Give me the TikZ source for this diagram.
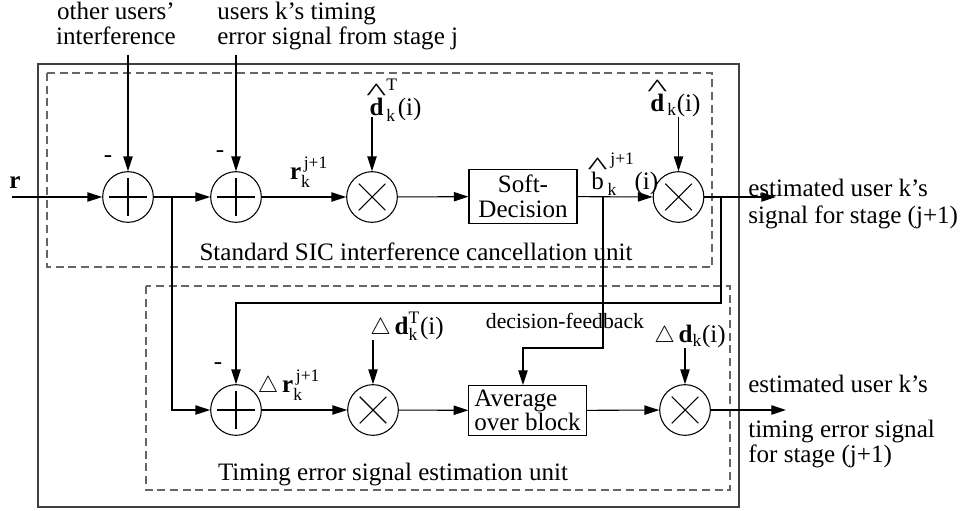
\documentclass[tikz,border=0pt]{standalone}
\usepackage{amsmath}
\usepackage{graphicx}
\usepackage{fontspec}
\setmainfont{Liberation Serif}
\usetikzlibrary{arrows.meta}
\newcommand{\myhat}[1]{\text{\shortstack{\raisebox{-0.25em}[0.42em][0pt]{\scalebox{1.7}[1]{\textasciicircum}}\\#1}}}
\tikzset{
  sig/.style={line width=0.8pt},
  arr/.style={sig, -{Triangle[length=11pt,width=7pt]}},
  sumnode/.style={circle, draw, line width=0.8pt, minimum size=38pt, inner sep=0pt,
    path picture={\draw[line width=0.8pt]
      ([xshift=-14pt]path picture bounding box.center) -- ([xshift=14pt]path picture bounding box.center)
      ([yshift=-14pt]path picture bounding box.center) -- ([yshift=14pt]path picture bounding box.center);}},
  mulnode/.style={circle, draw, line width=0.8pt, minimum size=38pt, inner sep=0pt,
    path picture={\draw[line width=0.8pt]
      ([shift={(-10pt,-10pt)}]path picture bounding box.center) -- ([shift={(10pt,10pt)}]path picture bounding box.center)
      ([shift={(-10pt,10pt)}]path picture bounding box.center) -- ([shift={(10pt,-10pt)}]path picture bounding box.center);}},
  blk/.style={draw, line width=0.8pt, inner sep=1pt, align=center},
  dbox/.style={draw=black!60, line width=0.8pt, dash pattern=on 6pt off 3.5pt},
  obox/.style={draw=black!75, line width=0.8pt},
  lbl/.style={inner sep=0pt},
  small/.style={inner sep=0pt, font=\fontsize{16.3}{18}\selectfont},
  every node/.style={font=\fontsize{18.8}{19}\selectfont},
}
\begin{document}
\begin{tikzpicture}[x=0.75pt,y=-0.75pt]
\useasboundingbox (0,0) rectangle (962,510);
% boxes
\draw[obox] (38,64) rectangle (739,507);
\draw[dbox] (47,73) rectangle (712,267);
\draw[dbox] (146,286) rectangle (730,490);
% main nodes
\node[sumnode] (s1) at (128,197) {};
\node[sumnode] (s2) at (236,197) {};
\node[mulnode] (m1) at (372,197) {};
\node[blk, minimum width=81pt, minimum height=40pt] (sd) at (523,196.5) {Soft-\\Decision};
\node[mulnode] (m2) at (678.5,197) {};
\node[sumnode] (s3) at (236,410) {};
\node[mulnode] (m3) at (373,410) {};
\node[blk, minimum width=88pt, minimum height=38pt, align=left, font=\fontsize{18.8}{15.5}\selectfont] (avg) at (527.5,410.5) {Average\\over block};
\node[mulnode] (m4) at (685,410) {};
% coordinates
\coordinate (rin) at (12,197);
\coordinate (in1) at (128,55);
\coordinate (in2) at (236,55);
\coordinate (j1) at (172,197);
\coordinate (j2) at (721,197);
\coordinate (fb) at (721,303);
\coordinate (j3) at (603,197);
\coordinate (df) at (603,348);
\coordinate (dfin) at (523,385);
\coordinate (dT) at (372,117);
\coordinate (dd) at (678.5,117);
\coordinate (ddT) at (373,340);
\coordinate (ddk) at (685,348);
\coordinate (out1) at (776,197);
\coordinate (out2) at (786,410);
% connectors
\draw[arr] (rin) -- (s1);
\draw[arr] (in1) -- (s1);
\draw[arr] (in2) -- (s2);
\draw[arr] (s1) -- (s2);
\draw[arr] (s2) -- (m1);
\draw[arr] (m1) -- (sd);
\draw[arr] (sd) -- (m2);
\draw[arr] (m2) -- (out1);
\draw[arr] (dT) -- (m1);
\draw[arr] (dd) -- (m2);
\draw[arr] (j1) |- (s3);
\draw[arr] (j2) -- (fb) -| (s3);
\draw[arr] (j3) -- (df) -| (dfin);
\draw[arr] (s3) -- (m3);
\draw[arr] (m3) -- (avg);
\draw[arr] (avg) -- (m4);
\draw[arr] (m4) -- (out2);
\draw[arr] (ddT) -- (m3);
\draw[arr] (ddk) -- (m4);
% labels
\node[lbl, anchor=base] (lin1a) at (116,20) {other users'};
\node[lbl, anchor=base] (lin1b) at (116,45) {interference};
\node[lbl, anchor=base west] (lin2a) at (217,20) {users k's timing};
\node[lbl, anchor=base west] (lin2b) at (217,45) {error signal from stage j};
\node[lbl] (lr) at (15,183) {$\textbf{r}$};
\node[lbl] (ms1) at (108,159) {-};
\node[lbl] (ms2) at (220,154) {-};
\node[lbl] (ms3) at (218,366) {-};
\node[lbl] (lrk) at (309,172) {$\textbf{r}^{\,\text{j+1}}_{\text{k}}$};
\node[lbl] (ldT) at (394,100) {$\myhat{\textbf{d}}^{\text{T}}_{\text{k}}\text{(i)}$};
\node[lbl] (ld) at (674,98) {$\myhat{\textbf{d}}_{\text{k}}\text{(i)}$};
\node[lbl] (lb) at (623,174) {$\myhat{b}^{\,\text{j+1}}_{\text{k}}\text{(i)}$};
\node[lbl] (ldr) at (289,385) {$\triangle\,\textbf{r}^{\,\text{j+1}}_{\text{k}}$};
\node[lbl] (lddT) at (407,326) {$\triangle\,\textbf{d}^{\text{T}}_{\text{k}}\text{(i)}$};
\node[lbl] (lddk) at (690,336) {$\triangle\,\textbf{d}_{\text{k}}\text{(i)}$};
\node[small, anchor=base] (lfb) at (565,328) {decision-feedback};
\node[lbl, anchor=base] (lsic) at (416,260) {Standard SIC interference cancellation unit};
\node[lbl, anchor=base] (lteu) at (393,480) {Timing error signal estimation unit};
\node[lbl, anchor=base west] (lo1a) at (748,196) {estimated user k's};
\node[lbl, anchor=base west] (lo1b) at (748,223) {signal for stage (j+1)};
\node[lbl, anchor=base west] (lo2a) at (748,392) {estimated user k's};
\node[lbl, anchor=base west] (lo2b) at (748,437) {timing error signal};
\node[lbl, anchor=base west] (lo2c) at (748,462) {for stage (j+1)};
\end{tikzpicture}
\end{document}
